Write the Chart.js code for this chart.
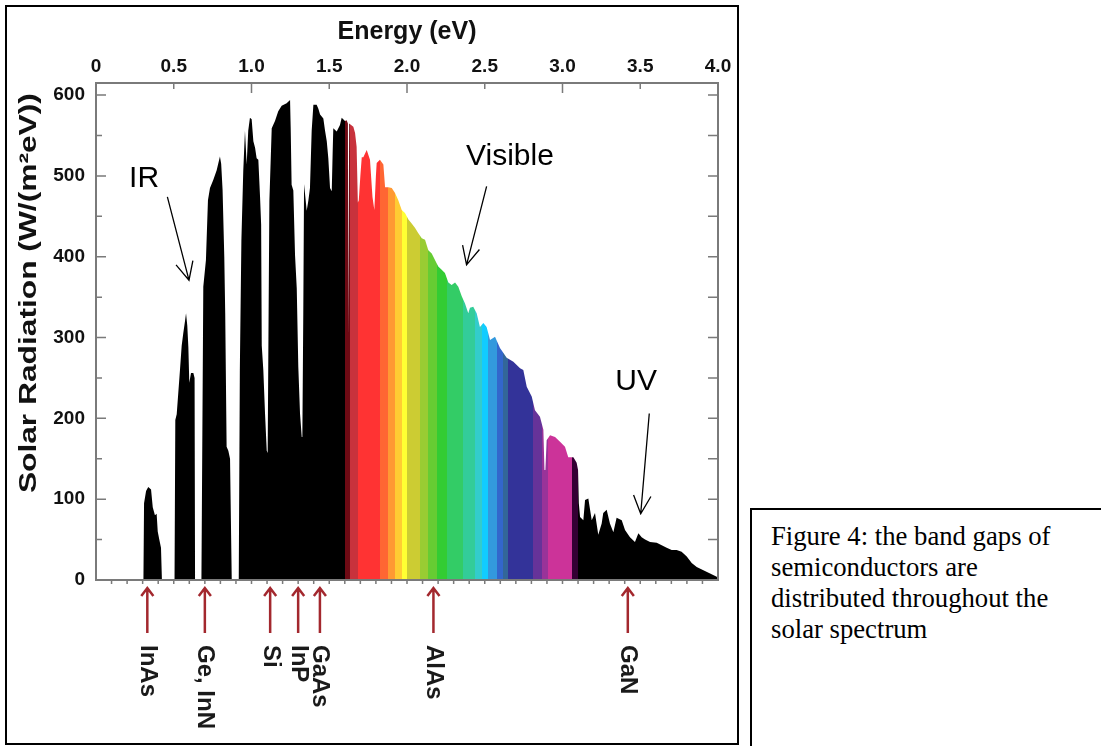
<!DOCTYPE html>
<html>
<head>
<meta charset="utf-8">
<title>Solar spectrum and semiconductor band gaps</title>
<script src="https://cdn.jsdelivr.net/npm/chart.js@4.4.1/dist/chart.umd.min.js"></script>
<style>
  html, body { margin: 0; padding: 0; background: #fff; }
  body { width: 1101px; height: 746px; position: relative; overflow: hidden; }
  #figure { position: absolute; left: 5px; top: 5px; width: 734px; height: 740px; border: 2px solid #000; box-sizing: border-box; }
  #chart { position: absolute; left: 0; top: 0; }
  #caption {
    position: absolute; left: 750px; top: 508px; width: 400px; height: 300px;
    border: 2px solid #000; box-sizing: border-box; padding: 11px 0 0 19px;
    font-family: 'Liberation Serif', 'Times New Roman', serif; font-size: 26.7px; line-height: 31px;
    white-space: nowrap; color: #000;
  }
</style>
</head>
<body>
<div id="figure"></div>
<canvas id="chart" width="745" height="746"></canvas>
<div id="caption">Figure 4: the band gaps of<br>semiconductors are<br>distributed throughout the<br>solar spectrum</div>

<script>
/* ---- data ---- */
const energy = [
  0.00, 0.305, 0.309, 0.322, 0.336, 0.354, 0.365, 0.379, 0.390, 0.397, 0.407, 0.418, 0.424,
  0.505, 0.510, 0.519, 0.540, 0.551, 0.561, 0.572, 0.579, 0.587, 0.594, 0.600, 0.611, 0.626, 0.634, 0.637,
  0.678, 0.690, 0.707, 0.720, 0.733, 0.754, 0.776, 0.797, 0.805, 0.814, 0.825, 0.831, 0.840, 0.851, 0.862, 0.873,
  0.918, 0.925, 0.935, 0.947, 0.958, 0.969, 0.979, 0.990, 1.001, 1.012, 1.023, 1.033, 1.044, 1.055, 1.062, 1.066, 1.076, 1.087, 1.098, 1.104,
  1.110, 1.115, 1.130, 1.151, 1.172, 1.194, 1.226, 1.248, 1.252, 1.258, 1.269, 1.280, 1.291, 1.301, 1.312, 1.323, 1.327,
  1.333, 1.338, 1.355, 1.366, 1.376, 1.387, 1.398, 1.419, 1.430, 1.441, 1.462, 1.473, 1.484, 1.494, 1.505, 1.516, 1.522, 1.526, 1.548, 1.569, 1.580, 1.590, 1.601,
  1.612, 1.620, 1.622, 1.626, 1.628, 1.633, 1.655, 1.666, 1.676, 1.684, 1.690, 1.700, 1.709, 1.719, 1.741, 1.762, 1.778, 1.790, 1.800, 1.805, 1.826, 1.848, 1.859, 1.880, 1.902, 1.923, 1.944, 1.966, 1.987,
  2.009, 2.030, 2.051, 2.073, 2.095, 2.116, 2.137, 2.159, 2.180, 2.201, 2.223, 2.244, 2.266, 2.287, 2.309, 2.330, 2.352, 2.373, 2.394, 2.405, 2.426, 2.448, 2.469, 2.491, 2.512, 2.534, 2.566, 2.598, 2.641, 2.684, 2.727, 2.748, 2.770, 2.802, 2.823, 2.855, 2.877, 2.884, 2.890, 2.898, 2.920, 2.952, 2.984,
  3.016, 3.037, 3.070, 3.091, 3.100, 3.105, 3.113, 3.134, 3.145, 3.166, 3.188, 3.209, 3.230, 3.252, 3.262, 3.284, 3.305, 3.327, 3.348, 3.381, 3.402, 3.434, 3.466, 3.488, 3.509, 3.531, 3.563, 3.606, 3.638, 3.670, 3.702, 3.734, 3.766, 3.799, 3.831, 3.863, 3.906, 3.949, 3.992, 4.000
];
const radiation = [
  0, 0, 95, 110, 115, 112, 90, 80, 82, 60, 50, 40, 0,
  0, 198, 205, 260, 290, 305, 320, 330, 315, 288, 244, 256, 256, 250, 0,
  0, 363, 396, 470, 485, 495, 507, 524, 515, 483, 400, 330, 165, 160, 150, 0,
  0, 260, 420, 506, 556, 514, 556, 572, 570, 543, 535, 522, 520, 474, 440, 290, 260, 206, 160, 157,
  330, 469, 559, 568, 580, 587, 590, 594, 560, 489, 482, 402, 361, 264, 206, 177, 177,
  330, 490, 457, 470, 485, 556, 588, 588, 583, 576, 571, 556, 543, 522, 485, 481, 530, 559, 555, 563, 572, 570, 568,
  569, 565, 301, 301, 565, 565, 561, 553, 536, 467, 470, 500, 523, 523, 532, 520, 474, 458, 500, 516, 520, 514, 486, 486, 485, 479, 470, 458, 454,
  446, 441, 436, 429, 423, 421, 408, 404, 396, 388, 384, 380, 368, 365, 368, 363, 351, 342, 330, 337, 338, 330, 313, 318, 313, 297, 301, 287, 275, 270, 262, 260, 239, 227, 210, 202, 186, 136, 136, 173, 179, 177, 171,
  165, 152, 152, 145, 136, 95, 78, 74, 99, 101, 74, 83, 56, 70, 83, 87, 70, 59, 77, 74, 62, 53, 47, 58, 53, 50, 47, 46, 43, 40, 37, 37, 35, 29, 21, 16, 12, 8, 4, 0
];

// colour bands of the visible part (eV edges, one colour per band)
const bandEdges = [1.601, 1.633, 1.685, 1.826, 1.878, 1.923, 1.968, 2.000, 2.084, 2.135, 2.193, 2.257, 2.360, 2.437, 2.482, 2.521, 2.579, 2.617, 2.650, 2.810, 2.868, 2.907, 3.061, 3.100];
const bandColors = ['#6e0a14', '#c8323c', '#ff3333', '#ff6633', '#ff9933', '#ffcc33', '#ffff33', '#cccc33', '#99cc33', '#66cc33',
                    '#33cc33', '#33cc66', '#33cc99', '#33cccc', '#11ccff', '#3399dd', '#3366cc', '#336699', '#333399', '#663399',
                    '#993399', '#cc3399', '#330033'];

// band gaps marked under the axis
const gapLabels = ['InAs', 'Ge, InN', 'Si', 'InP', 'GaAs', 'AlAs', 'GaN'];
const gapEnergy = [0.33, 0.70, 1.12, 1.30, 1.44, 2.17, 3.42];

// region notes: text position and arrow (eV, W/(m²eV))
const regions = [
  { text: 'IR',      at: [0.309, 497],   from: [0.459, 474], to: [0.598, 371] },
  { text: 'Visible', at: [2.662, 523.5], from: [2.512, 487], to: [2.383, 390] },
  { text: 'UV',      at: [3.473, 245],   from: [3.558, 206], to: [3.503, 82] }
];

const FONT = "'Liberation Sans', Arial, Helvetica, sans-serif";

/* ---- fill: black with spectral bands ---- */
function spectrumFill(context) {
  const chart = context.chart;
  const x = chart.scales.x;
  if (!chart.chartArea || !x) return '#000';
  const x0 = x.getPixelForValue(0), x1 = x.getPixelForValue(4);
  const t = v => (x.getPixelForValue(v) - x0) / (x1 - x0);
  const g = chart.ctx.createLinearGradient(x0, 0, x1, 0);
  g.addColorStop(0, '#000');
  g.addColorStop(t(bandEdges[0]), '#000');
  bandColors.forEach((c, i) => {
    g.addColorStop(t(bandEdges[i]), c);
    g.addColorStop(t(bandEdges[i + 1]), c);
  });
  g.addColorStop(t(bandEdges[bandEdges.length - 1]), '#000');
  g.addColorStop(1, '#000');
  return g;
}

function drawArrow(ctx, x0, y0, x1, y1, head, spread) {
  const ang = Math.atan2(y1 - y0, x1 - x0);
  ctx.beginPath();
  ctx.moveTo(x0, y0);
  ctx.lineTo(x1, y1);
  ctx.moveTo(x1 - head * Math.cos(ang - spread), y1 - head * Math.sin(ang - spread));
  ctx.lineTo(x1, y1);
  ctx.lineTo(x1 - head * Math.cos(ang + spread), y1 - head * Math.sin(ang + spread));
  ctx.stroke();
}

/* ---- frame, inward ticks, notes and band-gap markers ---- */
const decorations = {
  id: 'decorations',
  afterDatasetsDraw(chart) {
    const { ctx, chartArea: a, scales: { x, y } } = chart;
    ctx.save();

    // frame
    ctx.strokeStyle = '#7a7a7a';
    ctx.lineWidth = 2;
    ctx.strokeRect(a.left, a.top, a.right - a.left, a.bottom - a.top);

    // ticks
    ctx.lineWidth = 1.5;
    ctx.beginPath();
    for (let i = 1; i < 8; i++) {
      const px = x.getPixelForValue(i * 0.5);
      ctx.moveTo(px, a.top);
      ctx.lineTo(px, a.top + (i % 2 === 0 ? 10 : 6));
    }
    for (let i = 1; i < 40; i++) {
      const px = x.getPixelForValue(i / 10);
      ctx.moveTo(px, a.bottom);
      ctx.lineTo(px, a.bottom + 4);
    }
    for (let v = 50; v <= 600; v += 50) {
      const py = y.getPixelForValue(v);
      ctx.moveTo(a.left, py);
      ctx.lineTo(a.left + (v % 100 === 0 ? 10 : 6), py);
      ctx.moveTo(a.right, py);
      ctx.lineTo(a.right - 10, py);
    }
    ctx.stroke();

    // IR / Visible / UV notes
    ctx.strokeStyle = '#000';
    ctx.fillStyle = '#000';
    ctx.lineWidth = 1.3;
    ctx.font = '30px ' + FONT;
    ctx.textAlign = 'center';
    ctx.textBaseline = 'middle';
    regions.forEach(r => {
      ctx.fillText(r.text, x.getPixelForValue(r.at[0]), y.getPixelForValue(r.at[1]));
      drawArrow(ctx, x.getPixelForValue(r.from[0]), y.getPixelForValue(r.from[1]),
                x.getPixelForValue(r.to[0]), y.getPixelForValue(r.to[1]), 20, 0.45);
    });

    // band-gap markers
    ctx.strokeStyle = '#a3282e';
    ctx.lineWidth = 2.5;
    ctx.fillStyle = '#1a1a1a';
    ctx.font = 'bold 24px ' + FONT;
    ctx.textAlign = 'left';
    gapEnergy.forEach((e, i) => {
      const px = x.getPixelForValue(e);
      drawArrow(ctx, px, a.bottom + 53, px, a.bottom + 8, 10, 0.65);
      ctx.save();
      ctx.translate(px, a.bottom + 65);
      ctx.rotate(Math.PI / 2);
      ctx.fillText(gapLabels[i], 0, 0);
      ctx.restore();
    });

    // y axis title (long, stretched as in the figure)
    const title = 'Solar Radiation (W/(m²eV))';
    ctx.font = 'bold 24px ' + FONT;
    ctx.textAlign = 'center';
    ctx.fillStyle = '#111';
    const w = ctx.measureText(title).width;
    ctx.translate(29, y.getPixelForValue(355));
    ctx.rotate(-Math.PI / 2);
    ctx.scale(400 / w, 1);
    ctx.fillText(title, 0, 0);

    ctx.restore();
  }
};

new Chart(document.getElementById('chart'), {
  type: 'line',
  data: {
    datasets: [{
      data: energy.map((e, i) => ({ x: e, y: radiation[i] })),
      fill: 'origin',
      backgroundColor: spectrumFill,
      borderWidth: 0,
      pointRadius: 0,
      tension: 0
    }]
  },
  options: {
    responsive: false,
    animation: false,
    layout: { padding: { left: 0, top: 0, right: 27, bottom: 166 } },
    plugins: { legend: { display: false }, tooltip: { enabled: false } },
    scales: {
      x: {
        type: 'linear',
        position: 'top',
        min: 0, max: 4,
        grid: { display: false, drawTicks: false, tickLength: 0 },
        border: { display: false },
        ticks: {
          stepSize: 0.5,
          autoSkip: false,
          maxRotation: 0,
          padding: 5,
          color: '#111',
          font: { family: FONT, size: 19, weight: 'bold' },
          callback: v => (v === 0 ? '0' : v.toFixed(1))
        },
        title: {
          display: true,
          text: 'Energy (eV)',
          color: '#111',
          font: { family: FONT, size: 25, weight: 'bold' },
          padding: { top: 17, bottom: 0 }
        },
        afterFit(s) { s.height = 83; s.paddingLeft = 0; s.paddingRight = 0; }
      },
      y: {
        min: 0, max: 615,
        grid: { display: false, drawTicks: false, tickLength: 0 },
        border: { display: false },
        ticks: {
          stepSize: 100,
          includeBounds: false,
          padding: 11,
          color: '#111',
          font: { family: FONT, size: 19, weight: 'bold' }
        },
        afterFit(s) { s.width = 96; s.paddingTop = 0; s.paddingBottom = 0; }
      }
    }
  },
  plugins: [decorations]
});
</script>
</body>
</html>
